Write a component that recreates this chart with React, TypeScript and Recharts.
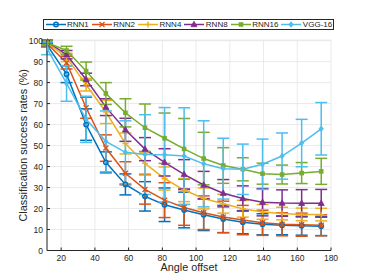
import React from "react";
import {
  LineChart,
  Line,
  XAxis,
  YAxis,
  CartesianGrid,
  ErrorBar,
} from "recharts";

// angle offsets (x positions of the measurement points)
const angles = [
  11.6, 23.2, 34.8, 46.5, 58.1, 69.7, 81.3, 92.9, 104.5, 116.1, 127.7, 139.4,
  151.0, 162.6, 174.2,
];

const rnn1 = [98, 84, 60, 42, 31.5, 25.8, 21.8, 19.3, 17, 15, 13.5, 12.5, 12, 11.8, 11.6];
const rnn1Err = [1, 4, 7.5, 5, 5, 7, 8, 8.5, 7.5, 6.5, 5.5, 5, 4.5, 4.5, 4.5];

const rnn2 = [98.5, 89.5, 68, 48.8, 36.8, 29.1, 24, 20.5, 18, 16, 14.5, 13.2, 12.5, 12.3, 12];
const rnn2Err = [1, 3, 5, 6.3, 5.5, 7, 8.3, 8.5, 8, 7.5, 7, 6, 5.5, 5.5, 5];

const rnn4 = [99, 92, 79, 66, 51, 41.5, 34.3, 28.8, 24.8, 22.3, 19.9, 18.4, 17.6, 17.2, 17.1];
const rnn4Err = [0.8, 2, 3, 5.5, 5, 5, 5.5, 5.5, 5, 4.5, 4, 3.5, 3, 3, 3];

const rnn8 = [99.5, 93.3, 81.5, 68.3, 57.5, 48.3, 42, 36.3, 31.2, 27.3, 24.8, 23, 22.6, 22.5, 22.5];
const rnn8Err = [0.8, 2, 3, 4, 5.5, 5.5, 6.5, 7, 6.5, 6.5, 6, 6.5, 6.3, 6.5, 6.6];

const rnn16 = [99, 95.3, 85.5, 74.8, 65.6, 58.5, 53.5, 48.4, 43.8, 40.5, 38.7, 36.6, 36.2, 36.9, 37.7];
const rnn16Err = [0.8, 2, 4.3, 5.2, 6.7, 11.3, 12, 14.5, 12.5, 8.5, 5.5, 5, 4.5, 5, 6.2];

const vgg = [96.3, 79.6, 62.5, 52, 46.8, 45.7, 45.6, 45, 41.3, 39, 38.7, 41.1, 45, 51.2, 58];
const vggErr = [3, 8.5, 11, 14.5, 15, 19, 22.5, 23, 20.5, 14.5, 12, 12, 11, 11.3, 12.5];

const xTicks = [20, 40, 60, 80, 100, 120, 140, 160, 180];
const yTicks = [0, 10, 20, 30, 40, 50, 60, 70, 80, 90, 100];

const series = [
  { key: "rnn1", name: "RNN1", color: "#0072BD", shape: "circle", values: rnn1, err: rnn1Err },
  { key: "rnn2", name: "RNN2", color: "#D95319", shape: "cross", values: rnn2, err: rnn2Err },
  { key: "rnn4", name: "RNN4", color: "#EDB120", shape: "plus", values: rnn4, err: rnn4Err },
  { key: "rnn8", name: "RNN8", color: "#7E2F8E", shape: "triangle", values: rnn8, err: rnn8Err },
  { key: "rnn16", name: "RNN16", color: "#77AC30", shape: "square", values: rnn16, err: rnn16Err },
  { key: "vgg", name: "VGG-16", color: "#4DBEEE", shape: "diamond", values: vgg, err: vggErr },
];

const data = angles.map((angle, i) => {
  const row: Record<string, number> = { angle };
  series.forEach((s) => {
    row[s.key] = s.values[i];
    row[s.key + "Err"] = s.err[i];
  });
  return row;
});

const AXIS = "#262626";
const FONT = '"Liberation Sans", Arial, Helvetica, sans-serif';

function Marker({ shape, x, y, color }: { shape: string; x: number; y: number; color: string }) {
  switch (shape) {
    case "circle":
      return <circle cx={x} cy={y} r={2.2} fill="none" stroke={color} strokeWidth={1.5} />;
    case "cross":
      return (
        <path
          d={`M${x - 2.5},${y - 2.5}L${x + 2.5},${y + 2.5}M${x - 2.5},${y + 2.5}L${x + 2.5},${y - 2.5}`}
          stroke={color}
          strokeWidth={1.4}
        />
      );
    case "plus":
      return (
        <path
          d={`M${x - 3},${y}H${x + 3}M${x},${y - 3}V${y + 3}`}
          stroke={color}
          strokeWidth={1.4}
        />
      );
    case "triangle":
      return (
        <polygon
          points={`${x},${y - 3.3} ${x - 3},${y + 2.2} ${x + 3},${y + 2.2}`}
          fill={color}
          stroke={color}
          strokeWidth={0.8}
        />
      );
    case "square":
      return <rect x={x - 2.3} y={y - 2.3} width={4.6} height={4.6} fill={color} />;
    default:
      return (
        <polygon
          points={`${x},${y - 3.2} ${x + 2.6},${y} ${x},${y + 3.2} ${x - 2.6},${y}`}
          fill={color}
        />
      );
  }
}

function LegendBox() {
  return (
    <div
      style={{
        position: "absolute",
        left: 42.5,
        top: 18.5,
        width: 287,
        height: 9.5,
        border: `1px solid ${AXIS}`,
        background: "#fff",
        display: "flex",
        alignItems: "center",
        paddingLeft: 2,
        fontFamily: FONT,
        fontSize: 8,
        lineHeight: "9px",
        color: AXIS,
        whiteSpace: "nowrap",
      }}
    >
      {series.map((s) => (
        <div key={s.key} style={{ display: "flex", alignItems: "center", marginRight: 3 }}>
          <svg width={20} height={9} style={{ marginRight: 1.5 }}>
            <line x1={0} x2={20} y1={4.5} y2={4.5} stroke={s.color} strokeWidth={1.5} />
            <Marker shape={s.shape} x={10} y={4.5} color={s.color} />
          </svg>
          <span>{s.name}</span>
        </div>
      ))}
    </div>
  );
}

export default function App() {
  return (
    <div
      style={{
        position: "absolute",
        left: 0,
        top: 0,
        width: 366,
        height: 280,
        background: "#fff",
        fontFamily: FONT,
      }}
    >
      <LineChart
        width={366}
        height={280}
        data={data}
        margin={{ top: 40, right: 35, left: 0, bottom: 0 }}
      >
        <CartesianGrid stroke="#e4e4e4" strokeWidth={0.8} />
        <XAxis
          dataKey="angle"
          type="number"
          domain={[11.6, 180]}
          allowDataOverflow
          ticks={xTicks}
          interval={0}
          height={29.5}
          tickSize={-3}
          tickMargin={7}
          stroke={AXIS}
          tick={{ fontSize: 8.5, fill: AXIS }}
          label={{
            value: "Angle offset",
            position: "insideBottom",
            offset: 8.7,
            style: { fontSize: 10.8, fill: AXIS },
          }}
        />
        <YAxis
          type="number"
          domain={[0, 100]}
          ticks={yTicks}
          interval={0}
          width={47}
          tickSize={-3}
          tickMargin={7}
          stroke={AXIS}
          tick={{ fontSize: 8.5, fill: AXIS }}
          label={{
            value: "Classification success rates (%)",
            angle: -90,
            position: "center",
            style: { fontSize: 10.8, fill: AXIS, textAnchor: "middle" },
          }}
        />
        {series.map((s) => (
          <Line
            key={s.key}
            dataKey={s.key}
            name={s.name}
            stroke={s.color}
            strokeWidth={1.5}
            isAnimationActive={false}
            activeDot={false}
            dot={(p: any) => (
              <Marker key={`${s.key}-${p.index}`} shape={s.shape} x={p.cx} y={p.cy} color={s.color} />
            )}
          >
            <ErrorBar
              dataKey={s.key + "Err"}
              direction="y"
              width={6}
              stroke={s.color}
              strokeWidth={1.5}
            />
          </Line>
        ))}
      </LineChart>
      <LegendBox />
    </div>
  );
}
